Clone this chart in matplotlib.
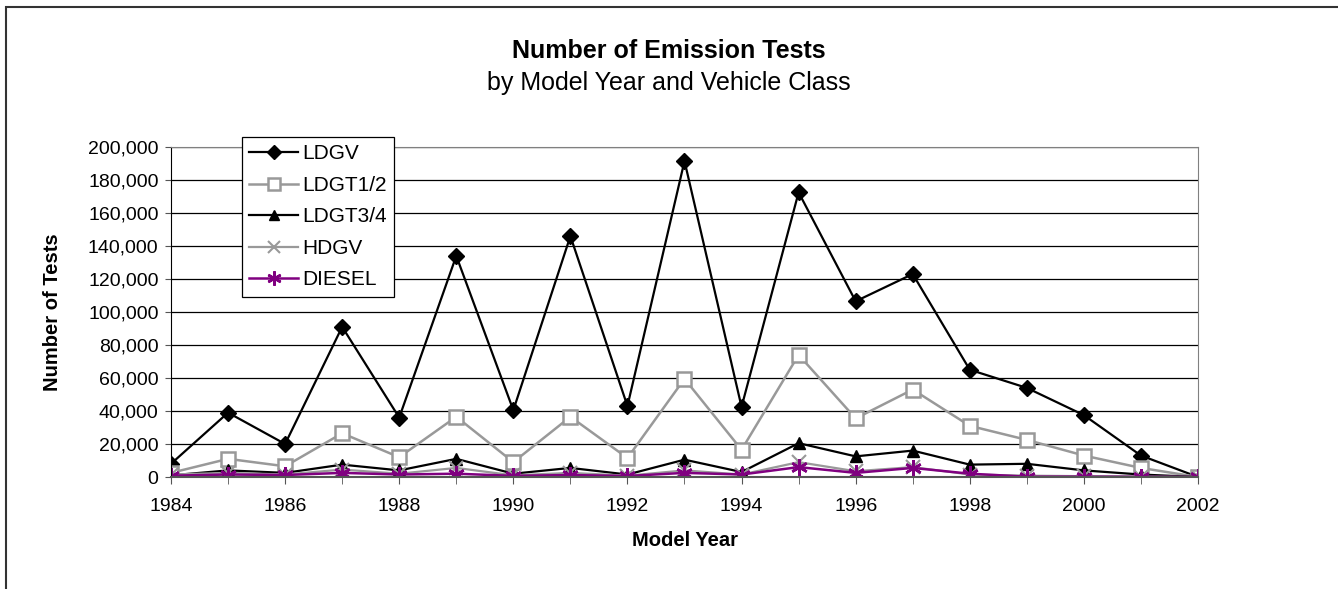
import matplotlib
matplotlib.use("Agg")
import matplotlib.pyplot as plt
from matplotlib.ticker import FuncFormatter, MultipleLocator
from matplotlib.patches import Rectangle

plt.rcParams['font.family'] = ['Liberation Sans', 'DejaVu Sans']

years = list(range(1984, 2003))
ldgv = [8000, 39000, 20000, 91000, 36000, 134000, 40500, 146000, 43000, 191500,
        42500, 172500, 106500, 123000, 65000, 54000, 37500, 13000, 0]
ldgt12 = [2500, 11000, 6500, 26500, 12000, 36500, 9000, 36500, 11500, 59500,
          16500, 74000, 35500, 53000, 31000, 22500, 13000, 5500, 0]
ldgt34 = [1000, 4000, 2500, 7500, 4000, 11000, 2000, 5500, 1500, 10500,
          3000, 20500, 12500, 16000, 7500, 8000, 4000, 1500, 0]
hdgv = [1500, 2500, 1500, 4500, 2000, 5500, 1000, 2500, 800, 4000,
        1500, 9000, 3500, 6000, 1500, 800, 500, 300, 0]
diesel = [800, 1500, 1200, 2500, 1500, 2000, 700, 1200, 600, 2500,
          1500, 6000, 2500, 5500, 2000, 200, 200, 100, 0]

fig = plt.figure(figsize=(13.38, 5.89), dpi=100)
ax = fig.add_axes([171/1338, 1 - 477/589, 1027/1338, 330/589])

gray = '#999999'
purple = '#800080'
ax.plot(years, ldgv, color='black', lw=1.6, marker='D', ms=8, label='LDGV')
ax.plot(years, ldgt12, color=gray, lw=1.8, marker='s', ms=10, mfc='white',
        mec=gray, mew=1.8, label='LDGT1/2')
ax.plot(years, ldgt34, color='black', lw=1.6, marker='^', ms=9, label='LDGT3/4')
ax.plot(years, hdgv, color=gray, lw=1.6, marker='x', ms=10, mew=1.5, label='HDGV')
ax.plot(years, diesel, color=purple, lw=1.8, marker=(6, 2, 0), ms=12, mew=1.8,
        label='DIESEL')

ax.set_xlim(1984, 2002)
ax.set_ylim(0, 200000)
ax.yaxis.set_major_locator(MultipleLocator(20000))
ax.yaxis.set_major_formatter(FuncFormatter(lambda v, p: f"{int(v):,}"))
ax.xaxis.set_major_locator(MultipleLocator(2))
ax.xaxis.set_minor_locator(MultipleLocator(1))
ax.grid(axis='y', color='black', lw=0.9)
ax.set_axisbelow(True)
ax.tick_params(axis='both', which='both', direction='out', labelsize=14,
               color='#555555')
ax.tick_params(axis='x', which='major', length=5, pad=10)
ax.tick_params(axis='x', which='minor', length=5)
ax.tick_params(axis='y', length=4, pad=5)
for s in ['top', 'right']:
    ax.spines[s].set_color('#808080')
ax.spines['left'].set_color('black')
ax.spines['bottom'].set_color('#555555')
ax.spines['bottom'].set_linewidth(1.5)

ax.set_xlabel('Model Year', fontsize=14.5, fontweight='bold')
ax.set_ylabel('Number of Tests', fontsize=14.5, fontweight='bold')
ax.xaxis.set_label_coords(0.5, (477 - 531) / 330)
ax.yaxis.set_label_coords((62 - 171) / 1027, 0.5)

fig.text(0.5, 1 - 51/589, 'Number of Emission Tests', ha='center', va='center',
         fontsize=18, fontweight='bold')
fig.text(0.5, 1 - 83/589, 'by Model Year and Vehicle Class', ha='center',
         va='center', fontsize=18)

leg = ax.legend(loc='upper left', bbox_to_anchor=(0.069, 1.03), fontsize=15,
                frameon=True, fancybox=False, framealpha=1, edgecolor='black',
                borderpad=0.35, labelspacing=0.6, handlelength=2.35,
                handletextpad=0.2, borderaxespad=0, markerscale=0.85)
leg.get_frame().set_linewidth(0.9)

# outer chart frame, clipped at right and bottom
fig.patches.append(Rectangle((6/1338, -0.1), 1.2, 1 - 7/589 + 0.1,
                             transform=fig.transFigure, fill=False,
                             edgecolor='#333333', lw=1.5))

fig.savefig('out.png', dpi=100)
